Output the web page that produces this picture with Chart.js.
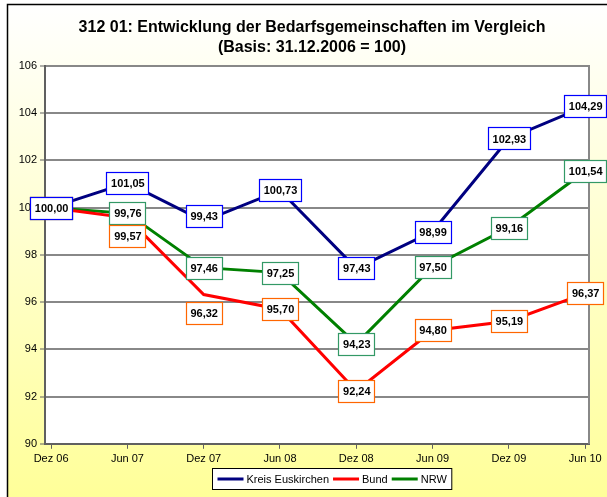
<!DOCTYPE html>
<html>
<head>
<meta charset="utf-8">
<title>Bedarfsgemeinschaften im Vergleich</title>
<script src="https://cdn.jsdelivr.net/npm/chart.js@4.4.0/dist/chart.umd.min.js"></script>
<style>
  html, body { margin: 0; padding: 0; background: #ffffff; }
  #wrap { width: 607px; height: 497px; }
</style>
</head>
<body>
<div id="wrap"><canvas id="chart" width="607" height="497"></canvas></div>
<script>
"use strict";

const categories = ["Dez 06", "Jun 07", "Dez 07", "Jun 08", "Dez 08", "Jun 09", "Dez 09", "Jun 10"];
const seriesNames = ["Kreis Euskirchen", "Bund", "NRW"];
const kreisValues = [100.0, 101.05, 99.43, 100.73, 97.43, 98.99, 102.93, 104.29];
const bundValues = [100.0, 99.57, 96.32, 95.7, 92.24, 94.8, 95.19, 96.37];
const nrwValues = [100.0, 99.76, 97.46, 97.25, 94.23, 97.5, 99.16, 101.54];
const yTicks = [90, 92, 94, 96, 98, 100, 102, 104, 106];
const titleLines = [
  "312 01: Entwicklung der Bedarfsgemeinschaften im Vergleich",
  "(Basis: 31.12.2006 = 100)",
];

const FONT = "'Liberation Sans', Arial, sans-serif";
Chart.defaults.font.family = FONT;
Chart.defaults.color = "#000000";

function formatValue(v) {
  return v.toFixed(2).replace(".", ",");
}

function toPoints(values) {
  return values.map((v, i) => ({ x: i, y: v }));
}

const decorPlugin = {
  id: "decor",
  beforeDraw(chart) {
    const { ctx, chartArea: area, width, height } = chart;
    ctx.save();
    ctx.fillStyle = "#ffffff";
    ctx.fillRect(0, 0, width, height);

    // background of the chart frame
    const grad = ctx.createLinearGradient(0, 4, 0, height);
    grad.addColorStop(0, "#ffffff");
    grad.addColorStop(1, "#ffff99");
    ctx.fillStyle = grad;
    ctx.fillRect(7, 4, width - 7, height - 4);
    ctx.strokeStyle = "#000000";
    ctx.lineWidth = 1.5;
    ctx.beginPath();
    ctx.moveTo(7.5, height);
    ctx.lineTo(7.5, 4.5);
    ctx.lineTo(width, 4.5);
    ctx.stroke();

    // plot area
    ctx.fillStyle = "#ffffff";
    ctx.fillRect(area.left, area.top, area.width, area.height);

    // title
    ctx.fillStyle = "#000000";
    ctx.font = "bold 16px " + FONT;
    ctx.textAlign = "center";
    ctx.textBaseline = "middle";
    titleLines.forEach((line, i) => {
      ctx.fillText(line, 312, 28 + i * 20);
    });
    ctx.restore();
  },
  beforeDatasetsDraw(chart) {
    const { ctx, chartArea: area } = chart;
    ctx.save();
    ctx.strokeStyle = "#888888";
    ctx.lineWidth = 2;
    ctx.beginPath();
    ctx.moveTo(area.right, area.top - 1);
    ctx.lineTo(area.right, area.bottom);
    ctx.stroke();
    ctx.restore();
  },
  afterDatasetsDraw(chart) {
    const { ctx } = chart;
    ctx.save();
    ctx.font = "bold 11px " + FONT;
    ctx.textAlign = "center";
    ctx.textBaseline = "middle";
    // draw first series last so its boxes sit on top
    for (let di = chart.data.datasets.length - 1; di >= 0; di--) {
      const ds = chart.data.datasets[di];
      const meta = chart.getDatasetMeta(di);
      meta.data.forEach((pt, i) => {
        const text = formatValue(ds.data[i].y);
        const w = Math.round(ctx.measureText(text).width) + 8;
        const h = 22;
        const shift = ds.labelShift ? ds.labelShift[i] : 0;
        const x = Math.round(pt.x - w / 2) + 0.5;
        const y = Math.round(pt.y + shift - h / 2) + 0.5;
        ctx.fillStyle = "#ffffff";
        ctx.fillRect(x, y, w, h);
        ctx.strokeStyle = ds.labelBorder;
        ctx.lineWidth = 1.2;
        ctx.strokeRect(x, y, w, h);
        ctx.fillStyle = "#000000";
        ctx.fillText(text, pt.x + 0.5, pt.y + shift + 1);
      });
    }
    ctx.restore();
  },
  afterDraw(chart) {
    const { ctx } = chart;
    const sets = chart.data.datasets;
    ctx.save();
    ctx.font = "11px " + FONT;
    const sample = 26, textGap = 3, itemGap = 4, padX = 5;
    let total = padX * 2;
    sets.forEach((ds, i) => {
      total += sample + textGap + ctx.measureText(ds.label).width;
      if (i > 0) total += itemGap;
    });
    const left = Math.round(332 - total / 2) + 0.5;
    const top = 468.5, h = 21;
    ctx.fillStyle = "#ffffff";
    ctx.fillRect(left, top, total, h);
    ctx.strokeStyle = "#000000";
    ctx.lineWidth = 1;
    ctx.strokeRect(left, top, total, h);
    let x = left + padX;
    const cy = top + h / 2;
    ctx.textBaseline = "middle";
    ctx.textAlign = "left";
    sets.forEach((ds) => {
      ctx.fillStyle = ds.borderColor;
      ctx.fillRect(x, cy - 1.5, sample, 3);
      x += sample + textGap;
      ctx.fillStyle = "#000000";
      ctx.fillText(ds.label, x, cy + 0.5);
      x += ctx.measureText(ds.label).width + itemGap;
    });
    ctx.restore();
  },
};

const ctx = document.getElementById("chart").getContext("2d");

new Chart(ctx, {
  type: "line",
  data: {
    datasets: [
      {
        label: seriesNames[0],
        data: toPoints(kreisValues),
        borderColor: "#000080",
        backgroundColor: "#000080",
        labelBorder: "#0000ff",
        labelShift: [0, 0, -5, 0, 0, 0, 0, 0],
      },
      {
        label: seriesNames[1],
        data: toPoints(bundValues),
        borderColor: "#ff0000",
        backgroundColor: "#ff0000",
        labelBorder: "#ff6600",
        labelShift: [0, 18, 18, 0, 0, 0, 0, 0],
      },
      {
        label: seriesNames[2],
        data: toPoints(nrwValues),
        borderColor: "#008000",
        backgroundColor: "#008000",
        labelBorder: "#339966",
      },
    ],
  },
  options: {
    responsive: false,
    animation: false,
    devicePixelRatio: 1,
    layout: {
      padding: { top: 66, right: 18, bottom: 27, left: 0 },
    },
    elements: {
      line: { borderWidth: 3, tension: 0, fill: false },
      point: { radius: 0, hoverRadius: 0 },
    },
    plugins: {
      legend: { display: false },
      title: { display: false },
      tooltip: { enabled: false },
    },
    scales: {
      x: {
        type: "linear",
        min: -0.08,
        max: 7.05,
        afterBuildTicks: (axis) => {
          axis.ticks = categories.map((_, i) => ({ value: i }));
        },
        ticks: {
          callback: (value) => categories[value],
          color: "#000000",
          font: { size: 11 },
          padding: 4,
          maxRotation: 0,
          autoSkip: false,
        },
        grid: {
          drawOnChartArea: false,
          drawTicks: true,
          tickLength: 5,
          tickColor: "#606060",
          tickWidth: 1,
        },
        border: { color: "#606060", width: 2 },
      },
      y: {
        min: 90,
        max: 106,
        afterBuildTicks: (axis) => {
          axis.ticks = yTicks.map((v) => ({ value: v }));
        },
        afterFit: (axis) => {
          axis.width = 45;
        },
        ticks: {
          color: "#000000",
          font: { size: 11 },
          padding: 3,
        },
        grid: {
          color: "#888888",
          lineWidth: 2,
          tickLength: 5,
          tickColor: "#606060",
          tickWidth: 1,
        },
        border: { color: "#606060", width: 2 },
      },
    },
  },
  plugins: [decorPlugin],
});
</script>
</body>
</html>
